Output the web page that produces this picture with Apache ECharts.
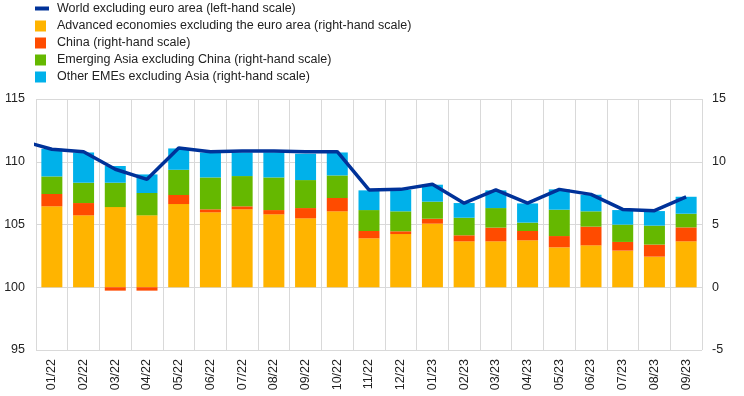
<!DOCTYPE html>
<html>
<head>
<meta charset="utf-8">
<script src="https://cdn.jsdelivr.net/npm/echarts@6/dist/echarts.min.js"></script>
<style>
  html, body { margin: 0; padding: 0; background: #fff; }
  #chart { width: 744px; height: 396px; }
</style>
</head>
<body>
<div id="chart"></div>
<script>
// months on the x axis
const categories = ['01/22', '02/22', '03/22', '04/22', '05/22', '06/22', '07/22', '08/22', '09/22', '10/22', '11/22',
  '12/22', '01/23', '02/23', '03/23', '04/23', '05/23', '06/23', '07/23', '08/23', '09/23']

// stacked contributions (right-hand scale)
const advanced = [6.45, 5.73, 6.39, 5.73, 6.63, 5.97, 6.21, 5.81, 5.49, 6.05, 3.9, 4.24, 5.07, 3.66, 3.66, 3.74, 3.18, 3.34, 2.92, 2.44, 3.66]
const china = [0.98, 0.98, -0.27, -0.27, 0.72, 0.24, 0.24, 0.34, 0.82, 1.06, 0.58, 0.22, 0.39, 0.48, 1.09, 0.74, 0.9, 1.49, 0.69, 0.96, 1.11]
const emAsia = [1.4, 1.62, 1.94, 1.78, 2.01, 2.54, 2.41, 2.6, 2.23, 1.8, 1.67, 1.59, 1.36, 1.4, 1.56, 0.67, 2.1, 1.22, 1.38, 1.51, 1.09]
const otherEme = [2.2, 2.41, 1.33, 1.48, 1.7, 1.99, 1.88, 2.0, 2.1, 1.83, 1.57, 1.72, 1.35, 1.17, 1.41, 1.53, 1.62, 1.32, 1.16, 1.16, 1.35]

// world excl. euro area (left-hand scale); first value is 12/21, only its stub is visible
const worldStartIndex = -1
const world = [111.7, 111.0, 110.8, 109.4, 108.6, 111.1, 110.8, 110.85, 110.85, 110.8, 110.8, 107.75, 107.8, 108.2,
  106.7, 107.75, 106.7, 107.8, 107.4, 106.2, 106.1, 107.2]

const names = [
  'World excluding euro area (left-hand scale)',
  'Advanced economies excluding the euro area (right-hand scale)',
  'China (right-hand scale)',
  'Emerging Asia excluding China (right-hand scale)',
  'Other EMEs excluding Asia (right-hand scale)'
]
const colors = ['#003299', '#FFB400', '#FF4B00', '#65B800', '#00B1EA']

const font = 'Arial, "Liberation Sans", sans-serif'
const gridColor = '#d9d9d9'
const textColor = '#222'

const chart = echarts.init(document.getElementById('chart'))

const barSeries = [advanced, china, emAsia, otherEme].map((data, i) => {
  return {
    type: 'bar',
    name: names[i + 1],
    stack: 'total',
    xAxisIndex: 0,
    yAxisIndex: 1,
    barWidth: 21,
    itemStyle: { color: colors[i + 1] },
    data: data
  }
})

const options = {
  animation: false,
  textStyle: { fontFamily: font },
  legend: [
    {
      data: [names[0]],
      left: 30,
      top: -3,
      itemWidth: 14,
      itemHeight: 4,
      icon: 'rect',
      textStyle: { fontSize: 12.5, color: textColor, fontFamily: font, padding: [0, 0, 0, 3] }
    },
    {
      data: names.slice(1),
      orient: 'vertical',
      left: 30,
      top: 14,
      itemGap: 3,
      itemWidth: 11,
      itemHeight: 11,
      icon: 'rect',
      textStyle: { fontSize: 12.5, color: textColor, fontFamily: font, padding: [0, 0, 0, 6], lineHeight: 14 }
    }
  ],
  grid: { left: 36, right: 42, top: 99, bottom: 46 },
  xAxis: [
    {
      type: 'category',
      data: categories,
      axisTick: { show: false },
      axisLine: { show: false },
      axisLabel: { rotate: 90, fontSize: 12.5, color: textColor, margin: 9, fontFamily: font },
      splitLine: { show: true, lineStyle: { color: gridColor } }
    },
    {
      type: 'value',
      min: -0.5,
      max: categories.length - 0.5,
      show: false
    }
  ],
  yAxis: [
    {
      type: 'value',
      min: 95,
      max: 115,
      interval: 5,
      position: 'left',
      axisLine: { show: false },
      axisTick: { show: false },
      axisLabel: { fontSize: 12.5, color: textColor, margin: 11, fontFamily: font },
      splitLine: { lineStyle: { color: gridColor } }
    },
    {
      type: 'value',
      min: -5,
      max: 15,
      interval: 5,
      position: 'right',
      axisLine: { show: false },
      axisTick: { show: false },
      axisLabel: { fontSize: 12.5, color: textColor, margin: 10, fontFamily: font },
      splitLine: { show: false }
    }
  ],
  series: barSeries.concat([
    {
      type: 'line',
      name: names[0],
      xAxisIndex: 1,
      yAxisIndex: 0,
      symbol: 'none',
      clip: true,
      z: 5,
      lineStyle: { color: colors[0], width: 3.5 },
      itemStyle: { color: colors[0] },
      data: world.map((v, i) => [i + worldStartIndex, v])
    }
  ])
}

chart.setOption(options)
</script>
</body>
</html>
